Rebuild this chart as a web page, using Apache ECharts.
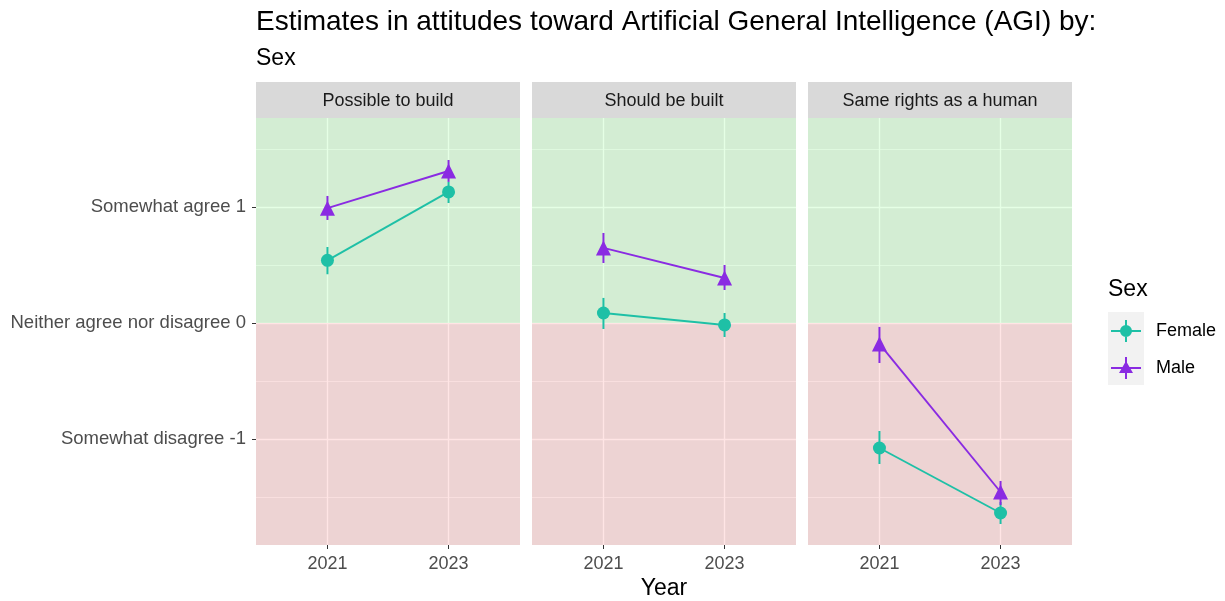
<!DOCTYPE html>
<html>
<head>
<meta charset="utf-8">
<script src="https://cdn.jsdelivr.net/npm/echarts@6/dist/echarts.min.js"></script>
<style>
  html, body { margin: 0; padding: 0; background: #fff; }
  #chart { width: 1225px; height: 601px; }
</style>
</head>
<body>
<div id="chart"></div>
<script>
// facets, years and estimates (with lower / upper bounds)
const panels = ['Possible to build', 'Should be built', 'Same rights as a human']
const years = [2021, 2023]
const femaleEst = [[0.54, 1.13], [0.086, -0.017], [-1.078, -1.638]]
const femaleLo = [[0.42, 1.034], [-0.052, -0.121], [-1.216, -1.733]]
const femaleHi = [[0.655, 1.216], [0.216, 0.086], [-0.931, -1.543]]
const maleEst = [[0.99, 1.31], [0.647, 0.388], [-0.181, -1.457]]
const maleLo = [[0.888, 1.216], [0.517, 0.284], [-0.345, -1.569]]
const maleHi = [[1.095, 1.405], [0.776, 0.5], [-0.034, -1.362]]
const yMajor = [-1, 0, 1]
const yMinor = [-1.5, -0.5, 0.5, 1.5]
const yLabels = { '1': 'Somewhat agree 1', '0': 'Neither agree nor disagree 0', '-1': 'Somewhat disagree -1' }

const FEMALE = '#1EC0A6'
const MALE = '#8A2BE2'
const Y_MIN = -1.914
const Y_MAX = 1.767
const X_MIN = 2019.82
const X_MAX = 2024.18
const FONT = 'Liberation Sans, Arial, sans-serif'

const gridLefts = [256, 532, 808]
const gridWidth = 264

const chart = echarts.init(document.getElementById('chart'))

const grids = []
const xAxes = []
const yAxes = []
const series = []
const graphics = []

function errorBars (name, color, lo, hi, p) {
  return {
    name: name,
    type: 'custom',
    xAxisIndex: p,
    yAxisIndex: p * 2,
    z: 3,
    itemStyle: { color: color },
    data: years.map((y, i) => [y, lo[p][i], hi[p][i]]),
    renderItem (params, api) {
      const a = api.coord([api.value(0), api.value(1)])
      const b = api.coord([api.value(0), api.value(2)])
      return {
        type: 'line',
        shape: { x1: a[0], y1: a[1], x2: b[0], y2: b[1] },
        style: { stroke: color, lineWidth: 2 }
      }
    }
  }
}

panels.forEach((title, p) => {
  grids.push({
    left: gridLefts[p], top: 118, width: gridWidth, height: 427,
    show: true, backgroundColor: '#EBEBEB', borderWidth: 0,
    containLabel: false, outerBoundsMode: 'none'
  })
  xAxes.push({
    type: 'value', gridIndex: p, min: X_MIN, max: X_MAX,
    axisLine: { show: false, onZero: false },
    axisTick: { show: true, length: 4, lineStyle: { color: '#333', width: 1 }, customValues: years },
    axisLabel: {
      customValues: years, color: '#4D4D4D', fontSize: 18, fontFamily: FONT, margin: 10,
      formatter: v => String(v)
    },
    splitLine: { show: true, lineStyle: { color: '#fff', width: 1.4 } }
  })
  // major y axis (labels + major grid)
  yAxes.push({
    type: 'value', gridIndex: p, min: Y_MIN, max: Y_MAX,
    axisLine: { show: false, onZero: false },
    axisTick: { show: p === 0, length: 4, lineStyle: { color: '#333', width: 1 }, customValues: yMajor },
    axisLabel: {
      show: p === 0, customValues: yMajor, color: '#4D4D4D', fontSize: 18.5, fontFamily: FONT, margin: 10,
      formatter: v => yLabels[String(Math.round(v))]
    },
    splitLine: { show: true, lineStyle: { color: '#fff', width: 1.4 } }
  })
  // minor y grid
  yAxes.push({
    type: 'value', gridIndex: p, min: Y_MIN, max: Y_MAX, position: 'left',
    axisLine: { show: false, onZero: false },
    axisTick: { show: false, customValues: yMinor },
    axisLabel: { show: false, customValues: yMinor },
    splitLine: { show: true, lineStyle: { color: '#fff', width: 0.7 } }
  })

  // green / red shading (agree vs disagree halves)
  series.push({
    type: 'line', xAxisIndex: p, yAxisIndex: p * 2, data: [], silent: true,
    markArea: {
      silent: true,
      data: [
        [{ coord: [X_MIN, 0], itemStyle: { color: 'rgba(0,255,0,0.1)' } }, { coord: [X_MAX, Y_MAX] }],
        [{ coord: [X_MIN, Y_MIN], itemStyle: { color: 'rgba(255,0,0,0.1)' } }, { coord: [X_MAX, 0] }]
      ]
    }
  })

  series.push(errorBars('Female', FEMALE, femaleLo, femaleHi, p))
  series.push(errorBars('Male', MALE, maleLo, maleHi, p))
  series.push({
    name: 'Female', type: 'line', xAxisIndex: p, yAxisIndex: p * 2, z: 4,
    data: years.map((y, i) => [y, femaleEst[p][i]]),
    symbol: 'circle', symbolSize: 13,
    lineStyle: { color: FEMALE, width: 1.9 }, itemStyle: { color: FEMALE }
  })
  series.push({
    name: 'Male', type: 'line', xAxisIndex: p, yAxisIndex: p * 2, z: 4,
    data: years.map((y, i) => [y, maleEst[p][i]]),
    symbol: 'triangle', symbolSize: 15,
    lineStyle: { color: MALE, width: 1.9 }, itemStyle: { color: MALE }
  })

  // facet strip
  graphics.push({
    type: 'rect', left: gridLefts[p], top: 82,
    shape: { width: gridWidth, height: 36 },
    style: { fill: '#D9D9D9' }
  })
  graphics.push({
    type: 'text', x: gridLefts[p] + gridWidth / 2, y: 101,
    style: { text: title, fill: '#1A1A1A', font: '18px ' + FONT, textAlign: 'center', textVerticalAlign: 'middle' }
  })
})

// x axis title
graphics.push({
  type: 'text', x: 664, y: 589,
  style: { text: 'Year', fill: '#000', font: '23px ' + FONT, textAlign: 'center', textVerticalAlign: 'middle' }
})
// legend title and key background
graphics.push({
  type: 'text', x: 1108, y: 290,
  style: { text: 'Sex', fill: '#000', font: '23px ' + FONT, textAlign: 'left', textVerticalAlign: 'middle' }
})
graphics.push({
  type: 'rect', left: 1108, top: 312, z: -10,
  shape: { width: 36, height: 73 },
  style: { fill: '#F2F2F2' }
})

// cross + marker icons for the legend (30 x 22 box)
const femaleIcon = 'path://M0,10L14,10L14,0L16,0L16,10L30,10L30,12L16,12L16,22L14,22L14,12L0,12Z M15,5A6,6 0 1,1 14.99,5Z'
const maleIcon = 'path://M0,10L14,10L14,0L16,0L16,10L30,10L30,12L16,12L16,22L14,22L14,12L0,12Z M15,4L22,16L8,16Z'

chart.setOption({
  animation: false,
  textStyle: { fontFamily: FONT },
  title: [
    {
      text: 'Estimates in attitudes toward Artificial General Intelligence (AGI) by:',
      left: 256, top: 8, padding: 0,
      textStyle: { color: '#000', fontSize: 28, fontWeight: 'normal', fontFamily: FONT }
    },
    {
      text: 'Sex',
      left: 256, top: 47, padding: 0,
      textStyle: { color: '#000', fontSize: 23, fontWeight: 'normal', fontFamily: FONT }
    }
  ],
  legend: {
    left: 1111, top: 320, orient: 'vertical',
    data: [
      { name: 'Female', icon: femaleIcon },
      { name: 'Male', icon: maleIcon }
    ],
    itemWidth: 30, itemHeight: 22, itemGap: 15,
    textStyle: { color: '#000', fontSize: 18, fontFamily: FONT, padding: [0, 0, 0, 10] },
    selectedMode: false,
    padding: 0
  },
  grid: grids,
  xAxis: xAxes,
  yAxis: yAxes,
  series: series,
  graphic: graphics
})
</script>
</body>
</html>
